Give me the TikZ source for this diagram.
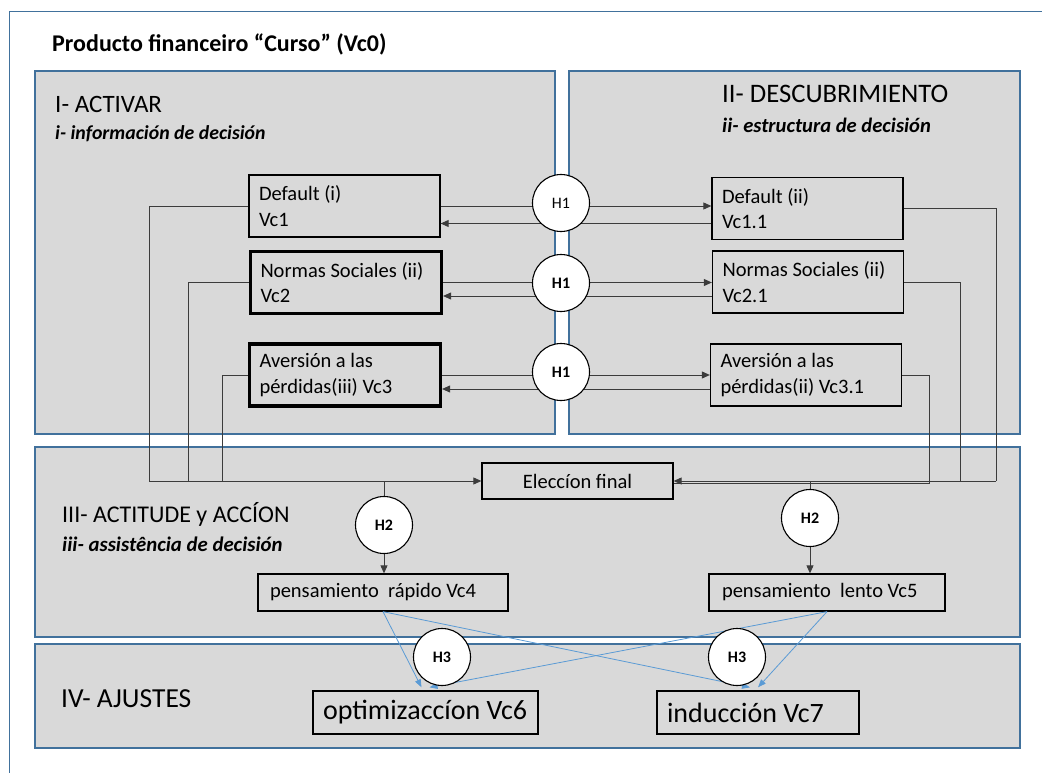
\documentclass[tikz,border=0pt]{standalone}
\usepackage{fontspec}
\setmainfont{Carlito}
\usepackage{xcolor}
\usepackage{tikz}
\usetikzlibrary{positioning}
\usetikzlibrary{calc}
\usetikzlibrary{arrows.meta}
\definecolor{panelgray}{RGB}{217,217,217}
\definecolor{panelblue}{RGB}{65,113,156}
\definecolor{arrowblue}{RGB}{91,155,213}
\definecolor{wiregray}{RGB}{60,60,60}

\begin{document}
\begin{tikzpicture}[x=1pt,y=-1pt,
  panel/.style={draw=panelblue,line width=1.1pt,fill=panelgray},
  vbox/.style={draw,line width=1.3pt,align=flush left,inner xsep=10pt,inner ysep=0pt,
    text width=171pt,minimum height=62pt,font=\fontsize{20.5}{25.5}\selectfont},
  vboxthick/.style={vbox,line width=3.2pt},
  thinkbox/.style={draw,line width=1.3pt,align=flush left,inner xsep=12pt,inner ysep=0pt,
    minimum height=37pt,font=\fontsize{20.5}{25.5}\selectfont},
  endbox/.style={draw,line width=1.3pt,align=flush left,inner xsep=10pt,inner ysep=0pt,
    minimum height=43pt,font=\fontsize{28}{32}\selectfont},
  hyp/.style={circle,draw,fill=white,line width=1.1pt,minimum size=57pt,inner sep=0pt,
    font=\fontsize{16}{16}\selectfont},
  hypbold/.style={hyp,font=\fontsize{16}{16}\selectfont\bfseries},
  wire/.style={draw=wiregray,line width=0.9pt},
  wirearrow/.style={wire,-{Triangle[length=8pt,width=7pt]}},
  bluearrow/.style={draw=arrowblue,line width=0.8pt,-{Triangle[length=8pt,width=6pt]}},
  head/.style={anchor=base west,inner sep=0pt,font=\fontsize{#1}{30}\selectfont},
  subhead/.style={anchor=base west,inner sep=0pt,font=\fontsize{#1}{24}\selectfont\bfseries\itshape}]
\useasboundingbox (0,0) rectangle (1042,773);
%%%%%%%%%%%%%%
\draw[draw=panelblue,line width=1pt] (9,773) -- (9,12) -- (1042,12);
\node[anchor=base west,inner sep=0pt,font=\fontsize{24}{28}\selectfont\bfseries] (title) at (52,52) {Producto financeiro “Curso” (Vc0)};
%%%%%%%%%%%%%%
\draw[panel] (35,71) rectangle (555,434);
\draw[panel] (569,71) rectangle (1020,434);
\draw[panel] (35,447) rectangle (1020,637);
\draw[panel] (35,644) rectangle (1020,748);
\node[head=25] (p1) at (55,113) {I- ACTIVAR};
\node[subhead=19.8] (s1) at (55,140) {i- información de decisión};
\node[head=26.7] (p2) at (722,103) {II- DESCUBRIMIENTO};
\node[subhead=20.6] (s2) at (722,133) {ii- estructura de decisión};
\node[head=24] (p3) at (62,522) {III- ACTITUDE y ACCÍON};
\node[subhead=20.8] (s3) at (62,551) {iii- assistência de decisión};
\node[head=27.5] (p4) at (61,707) {IV- AJUSTES};
%%%%%%%%%%%%%%
\node[vbox] (d1) at (344.5,206) {Default (i)\\Vc1};
\node[vboxthick] (v2) at (346,282.5) {Normas Sociales (ii)\\Vc2};
\node[vboxthick] (v3) at (345,375) {Aversión a las\\pérdidas(iii) Vc3};
\node[vbox] (d2) at (807.5,208.5) {Default (ii)\\Vc1.1};
\node[vbox] (v21) at (808,282) {Normas Sociales (ii)\\Vc2.1};
\node[vbox] (v31) at (806,375) {Aversión a las\\pérdidas(ii) Vc3.1};
\node[draw,line width=1.3pt,minimum width=191pt,minimum height=36pt,inner sep=0pt,
  font=\fontsize{20.5}{25.5}\selectfont] (el) at (577.5,481) {Eleccíon final};
\node[thinkbox,text width=226pt] (v4) at (383,592.5) {pensamiento\ \ rápido Vc4};
\node[thinkbox,text width=210pt,inner xsep=13pt] (v5) at (827,592.5) {pensamiento\ \ lento Vc5};
\node[endbox,text width=205pt] (v6) at (425.5,712.5) {optimizaccíon Vc6};
\node[endbox,text width=182pt] (v7) at (758,712.5) {inducción Vc7};
%%%%%%%%%%%%%%
\coordinate (c1a) at (561,203);
\coordinate (c1b) at (561,283);
\coordinate (c1c) at (561,372);
\coordinate (c2a) at (384,525);
\coordinate (c2b) at (810,518);
\coordinate (c3a) at (442,657);
\coordinate (c3b) at (737,657);
\coordinate (fl1) at (149,481);
\coordinate (fl2) at (188,481);
\coordinate (fl3) at (222,481);
\coordinate (fr1) at (996,481);
\coordinate (fr2) at (960,481);
\coordinate (fr3) at (929,483);
\coordinate (r1) at ($(d2.west)+(0,15)$);
\coordinate (r2) at ($(v21.west)+(0,14)$);
\coordinate (r3) at ($(v31.west)+(0,14)$);

\draw[wirearrow] (d1.east) -- (d1.east -| d2.west);
\draw[wirearrow] (r1) -- (r1 -| d1.east);
\draw[wirearrow] (v2.east) -- (v2.east -| v21.west);
\draw[wirearrow] (r2) -- (r2 -| v2.east);
\draw[wirearrow] (v3.east) -- (v3.east -| v31.west);
\draw[wirearrow] (r3) -- (r3 -| v3.east);
%%%%%%%%%%%%%%
\draw[wire] (d1.west) -| (fl1);
\draw[wire] (v2.west) -| (fl2);
\draw[wire] (v3.west) -| (fl3);
\draw[wirearrow] (fl1) -- (el.west);
\draw[wire] (d2.east) -| (fr1);
\draw[wire] (v21.east) -| (fr2);
\draw[wire] (v31.east) -| (fr3) -- (fr3 -| el.east);
\draw[wirearrow] (fr1) -- (el.east);
%%%%%%%%%%%%%%
\draw[wire] (c2a |- fl1) -- (c2a);
\draw[wirearrow] (c2a) -- (c2a |- v4.north);
\draw[wire] (c2b |- fr1) -- (c2b);
\draw[wirearrow] (c2b) -- (c2b |- v5.north);
%%%%%%%%%%%%%%
\draw[bluearrow] (v4.south) -- ([xshift=-4pt,yshift=3pt]v6.north);
\draw[bluearrow] (v5.south) -- ([xshift=4pt,yshift=3pt]v6.north);
\draw[bluearrow] (v4.south) -- ([xshift=-8pt,yshift=3pt]v7.north);
\draw[bluearrow] (v5.south) -- ([yshift=3pt]v7.north);
%%%%%%%%%%%%%%
\node[hyp] (h1a) at (c1a) {H1};
\node[hypbold] (h1b) at (c1b) {H1};
\node[hypbold] (h1c) at (c1c) {H1};
\node[hypbold] (h2a) at (c2a) {H2};
\node[hypbold] (h2b) at (c2b) {H2};
\node[hypbold] (h3a) at (c3a) {H3};
\node[hypbold] (h3b) at (c3b) {H3};
\end{tikzpicture}
\end{document}
